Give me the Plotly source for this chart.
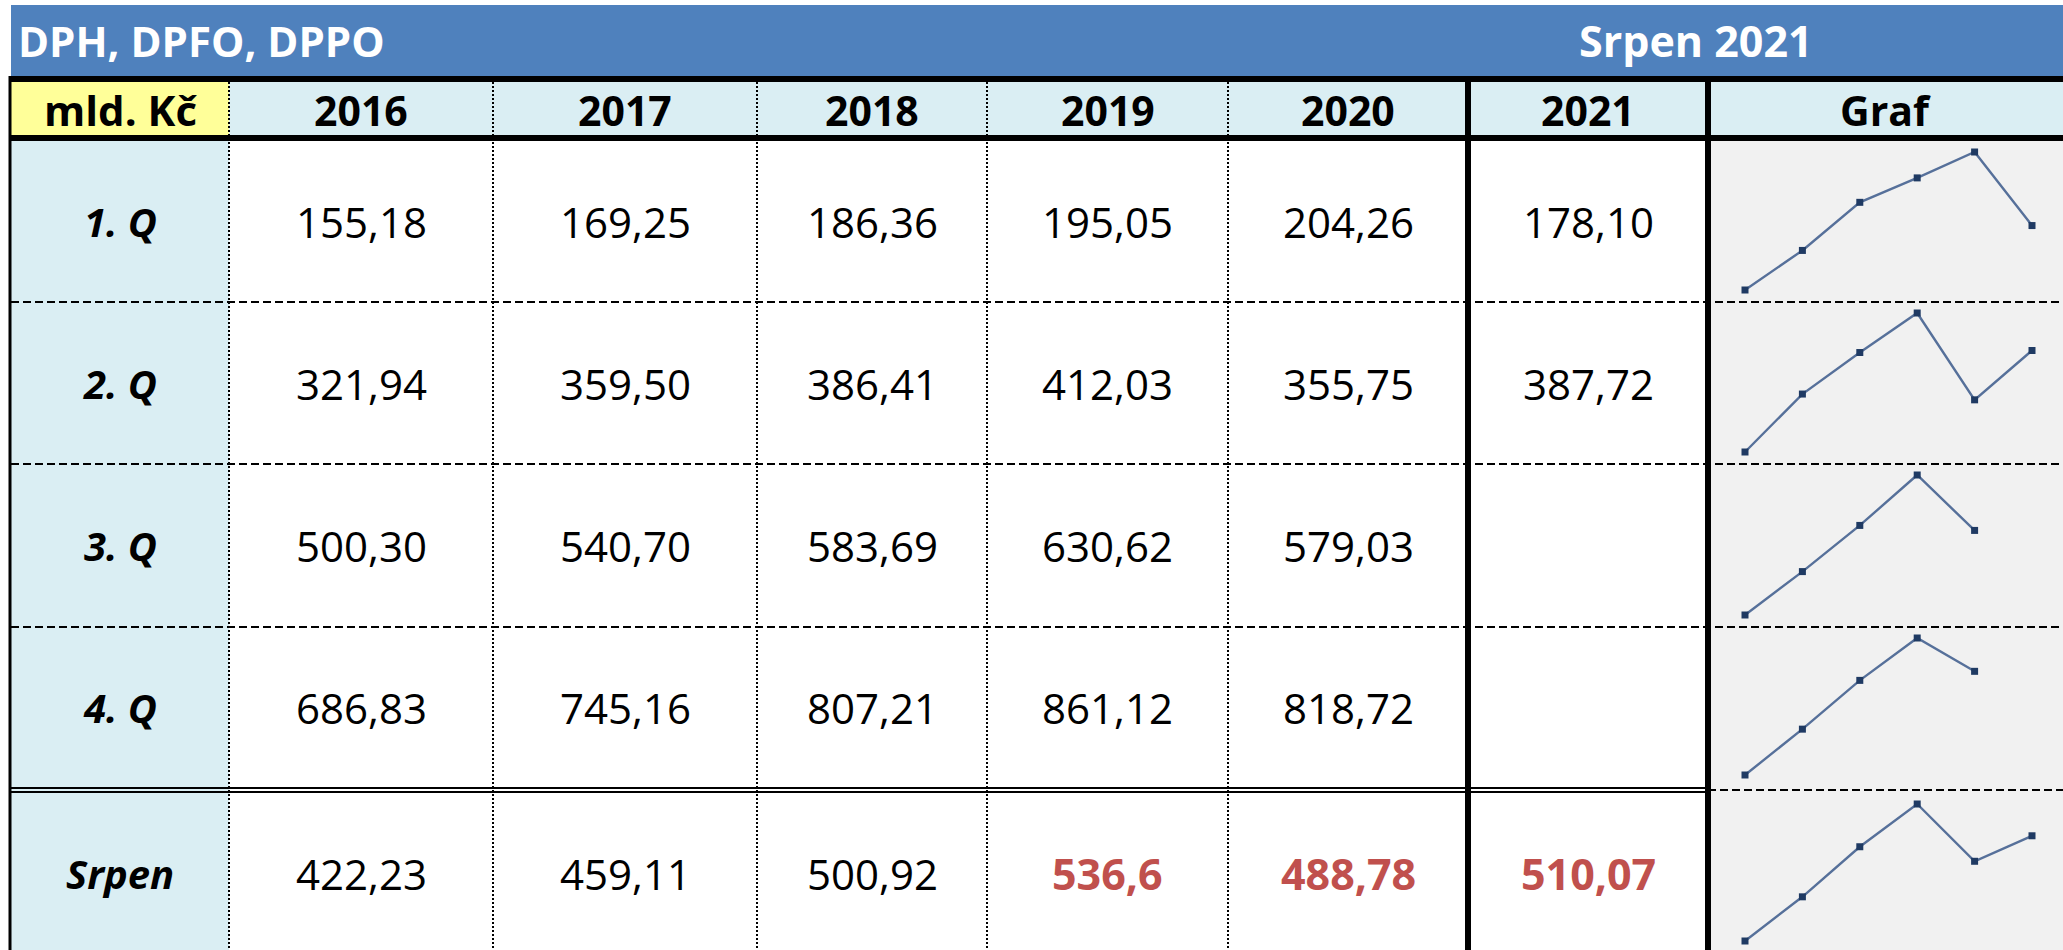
import plotly.graph_objects as go

# ---------------- data ----------------
title_left = "DPH, DPFO, DPPO"
title_right = "Srpen 2021"
unit_label = "mld. Kč"
graf_label = "Graf"
years = [2016, 2017, 2018, 2019, 2020, 2021]
row_labels = ["1. Q", "2. Q", "3. Q", "4. Q", "Srpen"]
q1 = [155.18, 169.25, 186.36, 195.05, 204.26, 178.10]
q2 = [321.94, 359.50, 386.41, 412.03, 355.75, 387.72]
q3 = [500.30, 540.70, 583.69, 630.62, 579.03, None]
q4 = [686.83, 745.16, 807.21, 861.12, 818.72, None]
srpen = [422.23, 459.11, 500.92, 536.6, 488.78, 510.07]
srpen_decimals = [2, 2, 2, 1, 2, 2]
srpen_highlight = [False, False, False, True, True, True]

series = [q1, q2, q3, q4, srpen]
decimals = [[2] * 6, [2] * 6, [2] * 6, [2] * 6, srpen_decimals]
highlight = [[False] * 6] * 4 + [srpen_highlight]

# ---------------- geometry (window pixels) ----------------
WIN_W, WIN_H = 2063, 950
OFF = 0
FW, FH = WIN_W - OFF, WIN_H - OFF
col_edges = [11, 229, 493, 757, 987, 1228, 1468, 1708, 2063]
header_top, header_bot = 82, 135
row_tops = [141, 302, 464, 627, 793]
row_bots = [302, 464, 627, 787, 953]
spark_x0, spark_x1 = 1745, 2032   # window x of first / last year
spark_pad_top, spark_pad_bot = 11, 12

C_TITLE = "#4F81BD"
C_HEAD = "#DAEEF3"
C_YELLOW = "#FFFF99"
C_GRAF = "#F1F1F1"
C_RED = "#C0504D"
FONT = "Open Sans"


def px(x):
    return (x - OFF) / FW


def py(y):
    return 1 - (y - OFF) / FH


def rect(x0, y0, x1, y1, fill):
    return dict(type="rect", xref="paper", yref="paper",
                x0=px(x0), x1=px(x1), y0=py(y1), y1=py(y0),
                fillcolor=fill, line=dict(width=0), layer="below")


def line(x0, y0, x1, y1, width=2, dash="solid", color="black"):
    return dict(type="line", xref="paper", yref="paper",
                x0=px(x0), x1=px(x1), y0=py(y0), y1=py(y1),
                line=dict(color=color, width=width, dash=dash), layer="above")


def ann(text, x, y, size, color="black", bold=False, italic=False, xanchor="center", family=FONT):
    return dict(text=text, xref="paper", yref="paper", x=px(x), y=py(y),
                xanchor=xanchor, yanchor="middle", showarrow=False,
                font=dict(family=family, size=size, color=color,
                          weight="bold" if bold else "normal",
                          style="italic" if italic else "normal"))


shapes = []
annotations = []

# backgrounds
shapes.append(rect(11, 5, WIN_W, 76, C_TITLE))
shapes.append(rect(11, header_top, col_edges[1], header_bot, C_YELLOW))
shapes.append(rect(col_edges[1], header_top, WIN_W, header_bot, C_HEAD))
shapes.append(rect(11, 141, col_edges[1], WIN_H, C_HEAD))
shapes.append(rect(col_edges[7], 141, WIN_W, WIN_H, C_GRAF))

# horizontal row separators (dashed)
for y in row_bots[:3]:
    shapes.append(line(11, y, WIN_W, y, width=2, dash="8px,4px"))
# double line above Srpen row
shapes.append(line(11, 788, col_edges[7], 788, width=2))
shapes.append(line(11, 792, col_edges[7], 792, width=2))
shapes.append(line(col_edges[7], 790, WIN_W, 790, width=2, dash="8px,4px"))

# vertical dotted column separators
for x in col_edges[1:6]:
    shapes.append(line(x, header_top, x, WIN_H, width=2, dash="2px,2px"))

# thick borders
shapes.append(line(10, 76, 10, WIN_H, width=3))
shapes.append(line(9, 79, WIN_W, 79, width=6))
shapes.append(line(9, 138, WIN_W, 138, width=6))
for x in (col_edges[6], col_edges[7]):
    shapes.append(line(x, 76, x, WIN_H, width=6))

# title texts
annotations.append(ann(title_left, 16, 41, 42, color="white", bold=True, xanchor="left"))
annotations.append(ann(title_right, 1696, 41, 43, color="white", bold=True))

# header texts
hy = (header_top + header_bot) / 2 + 1
annotations.append(ann(unit_label, (col_edges[0] + col_edges[1]) / 2, hy, 42, bold=True))
for i, yr in enumerate(years):
    cx = (col_edges[i + 1] + col_edges[i + 2]) / 2
    annotations.append(ann(str(yr), cx, hy, 41, bold=True))
annotations.append(ann(graf_label, (col_edges[7] + col_edges[8]) / 2, hy, 41, bold=True))

# body texts
for r, (lab, vals) in enumerate(zip(row_labels, series)):
    cy = (row_tops[r] + row_bots[r]) / 2
    annotations.append(ann(lab, (col_edges[0] + col_edges[1]) / 2, cy, 40, bold=True, italic=True))
    for c, v in enumerate(vals):
        if v is None:
            continue
        txt = f"{v:.{decimals[r][c]}f}".replace(".", ",")
        cx = (col_edges[c + 1] + col_edges[c + 2]) / 2
        if highlight[r][c]:
            annotations.append(ann(txt, cx, cy, 43, color=C_RED, bold=True))
        else:
            annotations.append(ann(txt, cx, cy, 42))

# ---------------- sparklines ----------------
fig = go.Figure()
layout_axes = {}
xslope = (years[-1] - years[0]) / (spark_x1 - spark_x0)
gx0, gx1 = col_edges[7] + 4, WIN_W
xrange_ = [years[0] - (spark_x0 - gx0) * xslope, years[-1] + (gx1 - spark_x1) * xslope]

for r, vals in enumerate(series):
    n = r + 1
    xs = [yr for yr, v in zip(years, vals) if v is not None]
    ys = [v for v in vals if v is not None]
    vmin, vmax = min(ys), max(ys)
    top_px = row_tops[r] + spark_pad_top
    bot_px = row_bots[r] - spark_pad_bot
    dom_top = row_tops[r]
    dom_bot = min(row_bots[r], WIN_H)
    slope = (vmax - vmin) / (bot_px - top_px)
    yr_hi = vmax + (top_px - dom_top) * slope
    yr_lo = vmin - (dom_bot - bot_px) * slope
    sfx = "" if n == 1 else str(n)
    fig.add_trace(go.Scatter(
        x=xs, y=ys, mode="lines+markers",
        line=dict(color="#56709A", width=2.4),
        marker=dict(symbol="square", size=7, color="#1F3A63"),
        xaxis="x" + sfx, yaxis="y" + sfx, showlegend=False, hoverinfo="skip",
        cliponaxis=False,
    ))
    layout_axes["xaxis" + sfx] = dict(domain=[px(gx0), min(1, px(gx1))], range=xrange_,
                                      visible=False, anchor="y" + sfx, fixedrange=True)
    layout_axes["yaxis" + sfx] = dict(domain=[max(0, py(dom_bot)), py(dom_top)], range=[yr_lo, yr_hi],
                                      visible=False, anchor="x" + sfx, fixedrange=True)

fig.update_layout(
    width=FW, height=FH,
    margin=dict(l=0, r=0, t=0, b=0),
    paper_bgcolor="white",
    plot_bgcolor="rgba(0,0,0,0)",
    shapes=shapes,
    annotations=annotations,
    showlegend=False,
    **layout_axes,
)

fig.write_html(
    "out.html",
    config={"displayModeBar": False},
    post_script="document.body.style.margin='0';document.body.style.overflow='hidden';",
)
